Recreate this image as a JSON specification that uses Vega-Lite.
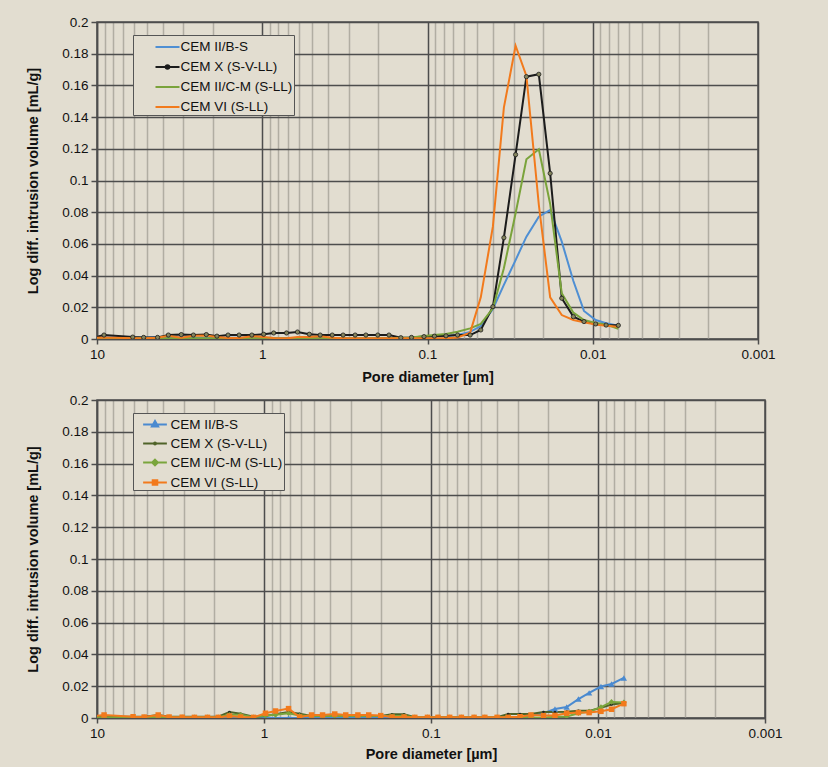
{
  "$schema": "https://vega.github.io/schema/vega-lite/v6.json",
  "background": "#e2ddd0",
  "padding": {"left": 24, "top": 14, "right": 60, "bottom": 5},
  "spacing": 7,
  "datasets": {
    "top": [
      {"d":10.8,"v":0.0015,"s":"CEM II/B-S"},{"d":9.07,"v":0.0012,"s":"CEM II/B-S"},{"d":6.08,"v":0.001,"s":"CEM II/B-S"},{"d":5.22,"v":0.001,"s":"CEM II/B-S"},{"d":4.3,"v":0.0012,"s":"CEM II/B-S"},{"d":3.7,"v":0.0012,"s":"CEM II/B-S"},{"d":3.09,"v":0.001,"s":"CEM II/B-S"},{"d":2.61,"v":0.001,"s":"CEM II/B-S"},{"d":2.18,"v":0.0008,"s":"CEM II/B-S"},{"d":1.88,"v":0.0008,"s":"CEM II/B-S"},{"d":1.61,"v":0.0008,"s":"CEM II/B-S"},{"d":1.38,"v":0.0008,"s":"CEM II/B-S"},{"d":1.156,"v":0.0012,"s":"CEM II/B-S"},{"d":0.98,"v":0.0008,"s":"CEM II/B-S"},{"d":0.853,"v":0.0006,"s":"CEM II/B-S"},{"d":0.713,"v":0.0006,"s":"CEM II/B-S"},{"d":0.612,"v":0.0006,"s":"CEM II/B-S"},{"d":0.519,"v":0.0006,"s":"CEM II/B-S"},{"d":0.446,"v":0.0006,"s":"CEM II/B-S"},{"d":0.377,"v":0.0006,"s":"CEM II/B-S"},{"d":0.324,"v":0.0006,"s":"CEM II/B-S"},{"d":0.274,"v":0.0006,"s":"CEM II/B-S"},{"d":0.236,"v":0.0006,"s":"CEM II/B-S"},{"d":0.2,"v":0.0006,"s":"CEM II/B-S"},{"d":0.171,"v":0.0006,"s":"CEM II/B-S"},{"d":0.145,"v":0.0006,"s":"CEM II/B-S"},{"d":0.125,"v":0.0008,"s":"CEM II/B-S"},{"d":0.105,"v":0.0012,"s":"CEM II/B-S"},{"d":0.0908,"v":0.0015,"s":"CEM II/B-S"},{"d":0.0773,"v":0.0018,"s":"CEM II/B-S"},{"d":0.0658,"v":0.0025,"s":"CEM II/B-S"},{"d":0.0552,"v":0.0045,"s":"CEM II/B-S"},{"d":0.0476,"v":0.0082,"s":"CEM II/B-S"},{"d":0.0402,"v":0.019,"s":"CEM II/B-S"},{"d":0.0345,"v":0.0341,"s":"CEM II/B-S"},{"d":0.0293,"v":0.0498,"s":"CEM II/B-S"},{"d":0.0252,"v":0.0646,"s":"CEM II/B-S"},{"d":0.0212,"v":0.0772,"s":"CEM II/B-S"},{"d":0.0181,"v":0.0814,"s":"CEM II/B-S"},{"d":0.0154,"v":0.0614,"s":"CEM II/B-S"},{"d":0.0131,"v":0.0366,"s":"CEM II/B-S"},{"d":0.0113,"v":0.0177,"s":"CEM II/B-S"},{"d":0.0096,"v":0.012,"s":"CEM II/B-S"},{"d":0.0083,"v":0.0099,"s":"CEM II/B-S"},{"d":0.007,"v":0.0084,"s":"CEM II/B-S"},
      {"d":10.8,"v":0.0005,"s":"CEM X (S-V-LL)"},{"d":9.07,"v":0.0025,"s":"CEM X (S-V-LL)"},{"d":6.08,"v":0.0012,"s":"CEM X (S-V-LL)"},{"d":5.22,"v":0.001,"s":"CEM X (S-V-LL)"},{"d":4.3,"v":0.001,"s":"CEM X (S-V-LL)"},{"d":3.7,"v":0.0025,"s":"CEM X (S-V-LL)"},{"d":3.09,"v":0.0028,"s":"CEM X (S-V-LL)"},{"d":2.61,"v":0.0025,"s":"CEM X (S-V-LL)"},{"d":2.18,"v":0.0028,"s":"CEM X (S-V-LL)"},{"d":1.88,"v":0.0018,"s":"CEM X (S-V-LL)"},{"d":1.61,"v":0.0025,"s":"CEM X (S-V-LL)"},{"d":1.38,"v":0.0025,"s":"CEM X (S-V-LL)"},{"d":1.156,"v":0.0025,"s":"CEM X (S-V-LL)"},{"d":0.98,"v":0.003,"s":"CEM X (S-V-LL)"},{"d":0.853,"v":0.0038,"s":"CEM X (S-V-LL)"},{"d":0.713,"v":0.0038,"s":"CEM X (S-V-LL)"},{"d":0.612,"v":0.0044,"s":"CEM X (S-V-LL)"},{"d":0.519,"v":0.003,"s":"CEM X (S-V-LL)"},{"d":0.446,"v":0.0025,"s":"CEM X (S-V-LL)"},{"d":0.377,"v":0.0025,"s":"CEM X (S-V-LL)"},{"d":0.324,"v":0.0025,"s":"CEM X (S-V-LL)"},{"d":0.274,"v":0.0025,"s":"CEM X (S-V-LL)"},{"d":0.236,"v":0.0025,"s":"CEM X (S-V-LL)"},{"d":0.2,"v":0.0025,"s":"CEM X (S-V-LL)"},{"d":0.171,"v":0.0025,"s":"CEM X (S-V-LL)"},{"d":0.145,"v":0.0008,"s":"CEM X (S-V-LL)"},{"d":0.125,"v":0.001,"s":"CEM X (S-V-LL)"},{"d":0.105,"v":0.0015,"s":"CEM X (S-V-LL)"},{"d":0.0908,"v":0.0018,"s":"CEM X (S-V-LL)"},{"d":0.0773,"v":0.002,"s":"CEM X (S-V-LL)"},{"d":0.0658,"v":0.0025,"s":"CEM X (S-V-LL)"},{"d":0.0552,"v":0.0025,"s":"CEM X (S-V-LL)"},{"d":0.0476,"v":0.0057,"s":"CEM X (S-V-LL)"},{"d":0.0402,"v":0.0204,"s":"CEM X (S-V-LL)"},{"d":0.0345,"v":0.0639,"s":"CEM X (S-V-LL)"},{"d":0.0293,"v":0.1163,"s":"CEM X (S-V-LL)"},{"d":0.0252,"v":0.1655,"s":"CEM X (S-V-LL)"},{"d":0.0212,"v":0.167,"s":"CEM X (S-V-LL)"},{"d":0.0181,"v":0.1045,"s":"CEM X (S-V-LL)"},{"d":0.0154,"v":0.0257,"s":"CEM X (S-V-LL)"},{"d":0.0131,"v":0.0141,"s":"CEM X (S-V-LL)"},{"d":0.0113,"v":0.011,"s":"CEM X (S-V-LL)"},{"d":0.0096,"v":0.0095,"s":"CEM X (S-V-LL)"},{"d":0.0083,"v":0.0088,"s":"CEM X (S-V-LL)"},{"d":0.007,"v":0.0086,"s":"CEM X (S-V-LL)"},
      {"d":10.8,"v":0.0003,"s":"CEM II/C-M (S-LL)"},{"d":9.07,"v":0.0004,"s":"CEM II/C-M (S-LL)"},{"d":6.08,"v":0.0004,"s":"CEM II/C-M (S-LL)"},{"d":5.22,"v":0.0004,"s":"CEM II/C-M (S-LL)"},{"d":4.3,"v":0.0004,"s":"CEM II/C-M (S-LL)"},{"d":3.7,"v":0.0005,"s":"CEM II/C-M (S-LL)"},{"d":3.09,"v":0.0005,"s":"CEM II/C-M (S-LL)"},{"d":2.61,"v":0.0005,"s":"CEM II/C-M (S-LL)"},{"d":2.18,"v":0.0005,"s":"CEM II/C-M (S-LL)"},{"d":1.88,"v":0.0005,"s":"CEM II/C-M (S-LL)"},{"d":1.61,"v":0.0005,"s":"CEM II/C-M (S-LL)"},{"d":1.38,"v":0.0005,"s":"CEM II/C-M (S-LL)"},{"d":1.156,"v":0.0005,"s":"CEM II/C-M (S-LL)"},{"d":0.98,"v":0.0005,"s":"CEM II/C-M (S-LL)"},{"d":0.853,"v":0.0005,"s":"CEM II/C-M (S-LL)"},{"d":0.713,"v":0.0005,"s":"CEM II/C-M (S-LL)"},{"d":0.612,"v":0.0005,"s":"CEM II/C-M (S-LL)"},{"d":0.519,"v":0.0005,"s":"CEM II/C-M (S-LL)"},{"d":0.446,"v":0.0005,"s":"CEM II/C-M (S-LL)"},{"d":0.377,"v":0.0005,"s":"CEM II/C-M (S-LL)"},{"d":0.324,"v":0.0005,"s":"CEM II/C-M (S-LL)"},{"d":0.274,"v":0.0005,"s":"CEM II/C-M (S-LL)"},{"d":0.236,"v":0.0005,"s":"CEM II/C-M (S-LL)"},{"d":0.2,"v":0.0005,"s":"CEM II/C-M (S-LL)"},{"d":0.171,"v":0.0005,"s":"CEM II/C-M (S-LL)"},{"d":0.145,"v":0.0008,"s":"CEM II/C-M (S-LL)"},{"d":0.125,"v":0.001,"s":"CEM II/C-M (S-LL)"},{"d":0.105,"v":0.0019,"s":"CEM II/C-M (S-LL)"},{"d":0.0908,"v":0.0025,"s":"CEM II/C-M (S-LL)"},{"d":0.0773,"v":0.0032,"s":"CEM II/C-M (S-LL)"},{"d":0.0658,"v":0.0046,"s":"CEM II/C-M (S-LL)"},{"d":0.0552,"v":0.0067,"s":"CEM II/C-M (S-LL)"},{"d":0.0476,"v":0.0095,"s":"CEM II/C-M (S-LL)"},{"d":0.0402,"v":0.0194,"s":"CEM II/C-M (S-LL)"},{"d":0.0345,"v":0.0446,"s":"CEM II/C-M (S-LL)"},{"d":0.0293,"v":0.0793,"s":"CEM II/C-M (S-LL)"},{"d":0.0252,"v":0.1134,"s":"CEM II/C-M (S-LL)"},{"d":0.0212,"v":0.1197,"s":"CEM II/C-M (S-LL)"},{"d":0.0181,"v":0.0852,"s":"CEM II/C-M (S-LL)"},{"d":0.0154,"v":0.0288,"s":"CEM II/C-M (S-LL)"},{"d":0.0131,"v":0.0166,"s":"CEM II/C-M (S-LL)"},{"d":0.0113,"v":0.012,"s":"CEM II/C-M (S-LL)"},{"d":0.0096,"v":0.0101,"s":"CEM II/C-M (S-LL)"},{"d":0.0083,"v":0.0091,"s":"CEM II/C-M (S-LL)"},{"d":0.007,"v":0.0065,"s":"CEM II/C-M (S-LL)"},
      {"d":10.8,"v":0.0005,"s":"CEM VI (S-LL)"},{"d":9.07,"v":0.001,"s":"CEM VI (S-LL)"},{"d":6.08,"v":0.0005,"s":"CEM VI (S-LL)"},{"d":5.22,"v":0.0005,"s":"CEM VI (S-LL)"},{"d":4.3,"v":0.0008,"s":"CEM VI (S-LL)"},{"d":3.7,"v":0.002,"s":"CEM VI (S-LL)"},{"d":3.09,"v":0.0008,"s":"CEM VI (S-LL)"},{"d":2.61,"v":0.002,"s":"CEM VI (S-LL)"},{"d":2.18,"v":0.0022,"s":"CEM VI (S-LL)"},{"d":1.88,"v":0.0012,"s":"CEM VI (S-LL)"},{"d":1.61,"v":0.0006,"s":"CEM VI (S-LL)"},{"d":1.38,"v":0.0006,"s":"CEM VI (S-LL)"},{"d":1.156,"v":0.0018,"s":"CEM VI (S-LL)"},{"d":0.98,"v":0.0012,"s":"CEM VI (S-LL)"},{"d":0.853,"v":0.0006,"s":"CEM VI (S-LL)"},{"d":0.713,"v":0.0004,"s":"CEM VI (S-LL)"},{"d":0.612,"v":0.0012,"s":"CEM VI (S-LL)"},{"d":0.519,"v":0.0012,"s":"CEM VI (S-LL)"},{"d":0.446,"v":0.0018,"s":"CEM VI (S-LL)"},{"d":0.377,"v":0.0008,"s":"CEM VI (S-LL)"},{"d":0.324,"v":0.0004,"s":"CEM VI (S-LL)"},{"d":0.274,"v":0.0004,"s":"CEM VI (S-LL)"},{"d":0.236,"v":0.0004,"s":"CEM VI (S-LL)"},{"d":0.2,"v":0.0004,"s":"CEM VI (S-LL)"},{"d":0.171,"v":0.0004,"s":"CEM VI (S-LL)"},{"d":0.145,"v":0.0004,"s":"CEM VI (S-LL)"},{"d":0.125,"v":0.0004,"s":"CEM VI (S-LL)"},{"d":0.105,"v":0.0004,"s":"CEM VI (S-LL)"},{"d":0.0908,"v":0.0004,"s":"CEM VI (S-LL)"},{"d":0.0773,"v":0.0004,"s":"CEM VI (S-LL)"},{"d":0.0658,"v":0.001,"s":"CEM VI (S-LL)"},{"d":0.0552,"v":0.004,"s":"CEM VI (S-LL)"},{"d":0.0476,"v":0.0263,"s":"CEM VI (S-LL)"},{"d":0.0402,"v":0.071,"s":"CEM VI (S-LL)"},{"d":0.0345,"v":0.146,"s":"CEM VI (S-LL)"},{"d":0.0293,"v":0.185,"s":"CEM VI (S-LL)"},{"d":0.0252,"v":0.166,"s":"CEM VI (S-LL)"},{"d":0.0212,"v":0.0847,"s":"CEM VI (S-LL)"},{"d":0.0181,"v":0.0263,"s":"CEM VI (S-LL)"},{"d":0.0154,"v":0.0151,"s":"CEM VI (S-LL)"},{"d":0.0131,"v":0.012,"s":"CEM VI (S-LL)"},{"d":0.0113,"v":0.0105,"s":"CEM VI (S-LL)"},{"d":0.0096,"v":0.0092,"s":"CEM VI (S-LL)"},{"d":0.0083,"v":0.0083,"s":"CEM VI (S-LL)"},{"d":0.007,"v":0.0078,"s":"CEM VI (S-LL)"}
    ],
    "bottom": [
      {"d":10.8,"v":0,"s":"CEM II/B-S"},{"d":9.07,"v":0.0003,"s":"CEM II/B-S"},{"d":6.08,"v":0,"s":"CEM II/B-S"},{"d":5.22,"v":0,"s":"CEM II/B-S"},{"d":4.3,"v":0,"s":"CEM II/B-S"},{"d":3.7,"v":0,"s":"CEM II/B-S"},{"d":3.09,"v":0,"s":"CEM II/B-S"},{"d":2.61,"v":0,"s":"CEM II/B-S"},{"d":2.18,"v":0,"s":"CEM II/B-S"},{"d":1.88,"v":0,"s":"CEM II/B-S"},{"d":1.61,"v":0,"s":"CEM II/B-S"},{"d":1.38,"v":0,"s":"CEM II/B-S"},{"d":1.156,"v":0,"s":"CEM II/B-S"},{"d":0.98,"v":0,"s":"CEM II/B-S"},{"d":0.853,"v":0,"s":"CEM II/B-S"},{"d":0.713,"v":0,"s":"CEM II/B-S"},{"d":0.612,"v":0,"s":"CEM II/B-S"},{"d":0.519,"v":0,"s":"CEM II/B-S"},{"d":0.446,"v":0,"s":"CEM II/B-S"},{"d":0.377,"v":0,"s":"CEM II/B-S"},{"d":0.324,"v":0,"s":"CEM II/B-S"},{"d":0.274,"v":0,"s":"CEM II/B-S"},{"d":0.236,"v":0,"s":"CEM II/B-S"},{"d":0.2,"v":0,"s":"CEM II/B-S"},{"d":0.171,"v":0,"s":"CEM II/B-S"},{"d":0.145,"v":0,"s":"CEM II/B-S"},{"d":0.125,"v":0,"s":"CEM II/B-S"},{"d":0.105,"v":0,"s":"CEM II/B-S"},{"d":0.0908,"v":0,"s":"CEM II/B-S"},{"d":0.0773,"v":0,"s":"CEM II/B-S"},{"d":0.0658,"v":0,"s":"CEM II/B-S"},{"d":0.0552,"v":0,"s":"CEM II/B-S"},{"d":0.0476,"v":0,"s":"CEM II/B-S"},{"d":0.0402,"v":0,"s":"CEM II/B-S"},{"d":0.0345,"v":0,"s":"CEM II/B-S"},{"d":0.0293,"v":0,"s":"CEM II/B-S"},{"d":0.0252,"v":0.0012,"s":"CEM II/B-S"},{"d":0.0212,"v":0.003,"s":"CEM II/B-S"},{"d":0.0181,"v":0.0057,"s":"CEM II/B-S"},{"d":0.0154,"v":0.0069,"s":"CEM II/B-S"},{"d":0.0131,"v":0.0119,"s":"CEM II/B-S"},{"d":0.0113,"v":0.0158,"s":"CEM II/B-S"},{"d":0.0096,"v":0.0198,"s":"CEM II/B-S"},{"d":0.0083,"v":0.0214,"s":"CEM II/B-S"},{"d":0.007,"v":0.0252,"s":"CEM II/B-S"},
      {"d":10.8,"v":0.0005,"s":"CEM X (S-V-LL)"},{"d":9.07,"v":0.0008,"s":"CEM X (S-V-LL)"},{"d":6.08,"v":0.0008,"s":"CEM X (S-V-LL)"},{"d":5.22,"v":0.0008,"s":"CEM X (S-V-LL)"},{"d":4.3,"v":0.0019,"s":"CEM X (S-V-LL)"},{"d":3.7,"v":0.0008,"s":"CEM X (S-V-LL)"},{"d":3.09,"v":0.0008,"s":"CEM X (S-V-LL)"},{"d":2.61,"v":0.0008,"s":"CEM X (S-V-LL)"},{"d":2.18,"v":0.0008,"s":"CEM X (S-V-LL)"},{"d":1.88,"v":0.0008,"s":"CEM X (S-V-LL)"},{"d":1.61,"v":0.0038,"s":"CEM X (S-V-LL)"},{"d":1.38,"v":0.0027,"s":"CEM X (S-V-LL)"},{"d":1.156,"v":0.0008,"s":"CEM X (S-V-LL)"},{"d":0.98,"v":0.0012,"s":"CEM X (S-V-LL)"},{"d":0.853,"v":0.0023,"s":"CEM X (S-V-LL)"},{"d":0.713,"v":0.0038,"s":"CEM X (S-V-LL)"},{"d":0.612,"v":0.0027,"s":"CEM X (S-V-LL)"},{"d":0.519,"v":0.0012,"s":"CEM X (S-V-LL)"},{"d":0.446,"v":0.0012,"s":"CEM X (S-V-LL)"},{"d":0.377,"v":0.0012,"s":"CEM X (S-V-LL)"},{"d":0.324,"v":0.0012,"s":"CEM X (S-V-LL)"},{"d":0.274,"v":0.0012,"s":"CEM X (S-V-LL)"},{"d":0.236,"v":0.0012,"s":"CEM X (S-V-LL)"},{"d":0.2,"v":0.0012,"s":"CEM X (S-V-LL)"},{"d":0.171,"v":0.0023,"s":"CEM X (S-V-LL)"},{"d":0.145,"v":0.0023,"s":"CEM X (S-V-LL)"},{"d":0.125,"v":0.0005,"s":"CEM X (S-V-LL)"},{"d":0.105,"v":0.0005,"s":"CEM X (S-V-LL)"},{"d":0.0908,"v":0.0005,"s":"CEM X (S-V-LL)"},{"d":0.0773,"v":0.0005,"s":"CEM X (S-V-LL)"},{"d":0.0658,"v":0.0005,"s":"CEM X (S-V-LL)"},{"d":0.0552,"v":0.0005,"s":"CEM X (S-V-LL)"},{"d":0.0476,"v":0.0005,"s":"CEM X (S-V-LL)"},{"d":0.0402,"v":0.0005,"s":"CEM X (S-V-LL)"},{"d":0.0345,"v":0.0025,"s":"CEM X (S-V-LL)"},{"d":0.0293,"v":0.0025,"s":"CEM X (S-V-LL)"},{"d":0.0252,"v":0.0025,"s":"CEM X (S-V-LL)"},{"d":0.0212,"v":0.0038,"s":"CEM X (S-V-LL)"},{"d":0.0181,"v":0.0038,"s":"CEM X (S-V-LL)"},{"d":0.0154,"v":0.004,"s":"CEM X (S-V-LL)"},{"d":0.0131,"v":0.0045,"s":"CEM X (S-V-LL)"},{"d":0.0113,"v":0.0045,"s":"CEM X (S-V-LL)"},{"d":0.0096,"v":0.0065,"s":"CEM X (S-V-LL)"},{"d":0.0083,"v":0.0085,"s":"CEM X (S-V-LL)"},{"d":0.007,"v":0.0095,"s":"CEM X (S-V-LL)"},
      {"d":10.8,"v":0.0005,"s":"CEM II/C-M (S-LL)"},{"d":9.07,"v":0.0005,"s":"CEM II/C-M (S-LL)"},{"d":6.08,"v":0.0005,"s":"CEM II/C-M (S-LL)"},{"d":5.22,"v":0.0005,"s":"CEM II/C-M (S-LL)"},{"d":4.3,"v":0.0005,"s":"CEM II/C-M (S-LL)"},{"d":3.7,"v":0.0005,"s":"CEM II/C-M (S-LL)"},{"d":3.09,"v":0.0005,"s":"CEM II/C-M (S-LL)"},{"d":2.61,"v":0.0005,"s":"CEM II/C-M (S-LL)"},{"d":2.18,"v":0.0005,"s":"CEM II/C-M (S-LL)"},{"d":1.88,"v":0.0005,"s":"CEM II/C-M (S-LL)"},{"d":1.61,"v":0.002,"s":"CEM II/C-M (S-LL)"},{"d":1.38,"v":0.002,"s":"CEM II/C-M (S-LL)"},{"d":1.156,"v":0.0005,"s":"CEM II/C-M (S-LL)"},{"d":0.98,"v":0.0015,"s":"CEM II/C-M (S-LL)"},{"d":0.853,"v":0.002,"s":"CEM II/C-M (S-LL)"},{"d":0.713,"v":0.003,"s":"CEM II/C-M (S-LL)"},{"d":0.612,"v":0.0015,"s":"CEM II/C-M (S-LL)"},{"d":0.519,"v":0.0012,"s":"CEM II/C-M (S-LL)"},{"d":0.446,"v":0.0012,"s":"CEM II/C-M (S-LL)"},{"d":0.377,"v":0.0012,"s":"CEM II/C-M (S-LL)"},{"d":0.324,"v":0.0012,"s":"CEM II/C-M (S-LL)"},{"d":0.274,"v":0.0012,"s":"CEM II/C-M (S-LL)"},{"d":0.236,"v":0.0012,"s":"CEM II/C-M (S-LL)"},{"d":0.2,"v":0.0012,"s":"CEM II/C-M (S-LL)"},{"d":0.171,"v":0.0012,"s":"CEM II/C-M (S-LL)"},{"d":0.145,"v":0.0012,"s":"CEM II/C-M (S-LL)"},{"d":0.125,"v":0.0004,"s":"CEM II/C-M (S-LL)"},{"d":0.105,"v":0.0004,"s":"CEM II/C-M (S-LL)"},{"d":0.0908,"v":0.0004,"s":"CEM II/C-M (S-LL)"},{"d":0.0773,"v":0.0004,"s":"CEM II/C-M (S-LL)"},{"d":0.0658,"v":0.0004,"s":"CEM II/C-M (S-LL)"},{"d":0.0552,"v":0.0004,"s":"CEM II/C-M (S-LL)"},{"d":0.0476,"v":0.0004,"s":"CEM II/C-M (S-LL)"},{"d":0.0402,"v":0.0004,"s":"CEM II/C-M (S-LL)"},{"d":0.0345,"v":0.0004,"s":"CEM II/C-M (S-LL)"},{"d":0.0293,"v":0.0004,"s":"CEM II/C-M (S-LL)"},{"d":0.0252,"v":0.0001,"s":"CEM II/C-M (S-LL)"},{"d":0.0212,"v":0.0001,"s":"CEM II/C-M (S-LL)"},{"d":0.0181,"v":0.0008,"s":"CEM II/C-M (S-LL)"},{"d":0.0154,"v":0.001,"s":"CEM II/C-M (S-LL)"},{"d":0.0131,"v":0.003,"s":"CEM II/C-M (S-LL)"},{"d":0.0113,"v":0.004,"s":"CEM II/C-M (S-LL)"},{"d":0.0096,"v":0.0068,"s":"CEM II/C-M (S-LL)"},{"d":0.0083,"v":0.0101,"s":"CEM II/C-M (S-LL)"},{"d":0.007,"v":0.0098,"s":"CEM II/C-M (S-LL)"},
      {"d":10.8,"v":0.001,"s":"CEM VI (S-LL)"},{"d":9.07,"v":0.0019,"s":"CEM VI (S-LL)"},{"d":6.08,"v":0.0008,"s":"CEM VI (S-LL)"},{"d":5.22,"v":0.0006,"s":"CEM VI (S-LL)"},{"d":4.3,"v":0.0019,"s":"CEM VI (S-LL)"},{"d":3.7,"v":0.0006,"s":"CEM VI (S-LL)"},{"d":3.09,"v":0.0005,"s":"CEM VI (S-LL)"},{"d":2.61,"v":0.0004,"s":"CEM VI (S-LL)"},{"d":2.18,"v":0.0004,"s":"CEM VI (S-LL)"},{"d":1.88,"v":0.0004,"s":"CEM VI (S-LL)"},{"d":1.61,"v":0.0012,"s":"CEM VI (S-LL)"},{"d":1.38,"v":0.0006,"s":"CEM VI (S-LL)"},{"d":1.156,"v":0.0004,"s":"CEM VI (S-LL)"},{"d":0.98,"v":0.003,"s":"CEM VI (S-LL)"},{"d":0.853,"v":0.0044,"s":"CEM VI (S-LL)"},{"d":0.713,"v":0.0059,"s":"CEM VI (S-LL)"},{"d":0.612,"v":0.0006,"s":"CEM VI (S-LL)"},{"d":0.519,"v":0.0019,"s":"CEM VI (S-LL)"},{"d":0.446,"v":0.0019,"s":"CEM VI (S-LL)"},{"d":0.377,"v":0.0025,"s":"CEM VI (S-LL)"},{"d":0.324,"v":0.0019,"s":"CEM VI (S-LL)"},{"d":0.274,"v":0.0019,"s":"CEM VI (S-LL)"},{"d":0.236,"v":0.0019,"s":"CEM VI (S-LL)"},{"d":0.2,"v":0.0015,"s":"CEM VI (S-LL)"},{"d":0.171,"v":0.0006,"s":"CEM VI (S-LL)"},{"d":0.145,"v":0.0006,"s":"CEM VI (S-LL)"},{"d":0.125,"v":0.0004,"s":"CEM VI (S-LL)"},{"d":0.105,"v":0.0004,"s":"CEM VI (S-LL)"},{"d":0.0908,"v":0.0004,"s":"CEM VI (S-LL)"},{"d":0.0773,"v":0.0004,"s":"CEM VI (S-LL)"},{"d":0.0658,"v":0.0004,"s":"CEM VI (S-LL)"},{"d":0.0552,"v":0.0004,"s":"CEM VI (S-LL)"},{"d":0.0476,"v":0.0004,"s":"CEM VI (S-LL)"},{"d":0.0402,"v":0.0004,"s":"CEM VI (S-LL)"},{"d":0.0345,"v":0.0004,"s":"CEM VI (S-LL)"},{"d":0.0293,"v":0.0008,"s":"CEM VI (S-LL)"},{"d":0.0252,"v":0.0019,"s":"CEM VI (S-LL)"},{"d":0.0212,"v":0.0015,"s":"CEM VI (S-LL)"},{"d":0.0181,"v":0.0016,"s":"CEM VI (S-LL)"},{"d":0.0154,"v":0.003,"s":"CEM VI (S-LL)"},{"d":0.0131,"v":0.0034,"s":"CEM VI (S-LL)"},{"d":0.0113,"v":0.0034,"s":"CEM VI (S-LL)"},{"d":0.0096,"v":0.0042,"s":"CEM VI (S-LL)"},{"d":0.0083,"v":0.0055,"s":"CEM VI (S-LL)"},{"d":0.007,"v":0.009,"s":"CEM VI (S-LL)"}
    ]
  },
  "vconcat": [
    {
      "width": 661,
      "height": 317,
      "data": {"name": "top"},
      "encoding": {
        "x": {"field": "d", "type": "quantitative", "title": "Pore diameter [µm]",
          "scale": {"type": "log", "domain": [0.001, 10], "reverse": true, "nice": false},
          "axis": {"values": [10,9,8,7,6,5,4,3,2,1,0.9,0.8,0.7,0.6,0.5,0.4,0.3,0.2,0.1,0.09,0.08,0.07,0.06,0.05,0.04,0.03,0.02,0.01,0.009,0.008,0.007,0.006,0.005,0.004,0.003,0.002,0.001],
            "format": "~g", "labelOverlap": false, "labelFlush": false,
            "labelExpr": "indexof([10,1,0.1,0.01,0.001], datum.value) >= 0 ? datum.label : ''",
            "gridColor": {"condition": {"test": "indexof([10,1,0.1,0.01,0.001], datum.value) >= 0", "value": "#4d4d4d"}, "value": "#b1ada2"},
            "tickColor": {"condition": {"test": "indexof([10,1,0.1,0.01,0.001], datum.value) >= 0", "value": "#4d4d4d"}, "value": "transparent"},
            "tickSize": 5, "labelPadding": 3, "titlePadding": 10}},
        "y": {"field": "v", "type": "quantitative", "title": "Log diff. intrusion volume [mL/g]",
          "scale": {"domain": [0, 0.2], "nice": false},
          "axis": {"values": [0,0.02,0.04,0.06,0.08,0.1,0.12,0.14,0.16,0.18,0.2], "format": "~g", "labelOverlap": false, "gridColor": "#4d4d4d", "tickSize": 6, "labelPadding": 3, "titlePadding": 21}}
      },
      "layer": [
        {
          "mark": {"type": "line", "strokeWidth": 2, "clip": true},
          "encoding": {
            "color": {"field": "s", "type": "nominal",
              "scale": {"domain": ["CEM II/B-S","CEM X (S-V-LL)","CEM II/C-M (S-LL)","CEM VI (S-LL)"], "range": ["#4f8fd3","#1c1c1c","#7aa33b","#f27a1c"]},
              "legend": {"orient": "none", "legendX": 36, "legendY": 13, "title": null,
                "padding": 1, "rowPadding": 2, "symbolOffset": 22.5, "labelOffset": 2, "symbolSize": 400, "symbolStrokeWidth": 2,
                "symbolType": {"expr": "datum.value === 'CEM X (S-V-LL)' ? 'M-1.2,0H1.2M-0.18,0A0.18,0.18 0 1,0 0.18,0A0.18,0.18 0 1,0 -0.18,0' : 'M-1.2,0H1.2'"},
                "symbolFillColor": {"expr": "datum.value === 'CEM X (S-V-LL)' ? '#85855e' : 'transparent'"},
                "labelFont": "Liberation Sans", "labelFontSize": 13.5, "labelColor": "#111",
                "fillColor": "#e2ddd0", "strokeColor": "#555555"}}
          }
        },
        {
          "transform": [{"filter": "datum.s === 'CEM X (S-V-LL)'"}],
          "mark": {"type": "point", "filled": true, "clip": true, "size": 18, "fill": "#85855e", "stroke": "#1c1c1c", "strokeWidth": 0.8, "opacity": 1}
        }
      ]
    },
    {
      "width": 668,
      "height": 318,
      "data": {"name": "bottom"},
      "encoding": {
        "x": {"field": "d", "type": "quantitative", "title": "Pore diameter [µm]",
          "scale": {"type": "log", "domain": [0.001, 10], "reverse": true, "nice": false},
          "axis": {"values": [10,9,8,7,6,5,4,3,2,1,0.9,0.8,0.7,0.6,0.5,0.4,0.3,0.2,0.1,0.09,0.08,0.07,0.06,0.05,0.04,0.03,0.02,0.01,0.009,0.008,0.007,0.006,0.005,0.004,0.003,0.002,0.001],
            "format": "~g", "labelOverlap": false, "labelFlush": false,
            "labelExpr": "indexof([10,1,0.1,0.01,0.001], datum.value) >= 0 ? datum.label : ''",
            "gridColor": {"condition": {"test": "indexof([10,1,0.1,0.01,0.001], datum.value) >= 0", "value": "#4d4d4d"}, "value": "#b1ada2"},
            "tickColor": {"condition": {"test": "indexof([10,1,0.1,0.01,0.001], datum.value) >= 0", "value": "#4d4d4d"}, "value": "transparent"},
            "tickSize": 5, "labelPadding": 3, "titlePadding": 8}},
        "y": {"field": "v", "type": "quantitative", "title": "Log diff. intrusion volume [mL/g]",
          "scale": {"domain": [0, 0.2], "nice": false},
          "axis": {"values": [0,0.02,0.04,0.06,0.08,0.1,0.12,0.14,0.16,0.18,0.2], "format": "~g", "labelOverlap": false, "gridColor": "#4d4d4d", "tickSize": 6, "labelPadding": 3, "titlePadding": 21}}
      },
      "layer": [
        {
          "mark": {"type": "line", "strokeWidth": 2, "clip": true},
          "encoding": {
            "color": {"field": "s", "type": "nominal",
              "scale": {"domain": ["CEM II/B-S","CEM X (S-V-LL)","CEM II/C-M (S-LL)","CEM VI (S-LL)"], "range": ["#4a8ad0","#4f6328","#7aa53c","#f27a1c"]},
              "legend": {"orient": "none", "legendX": 36, "legendY": 13, "title": null,
                "padding": 1, "rowPadding": 2, "symbolOffset": 10.5, "labelOffset": 5, "symbolSize": 361, "symbolStrokeWidth": 2,
                "symbolType": {"expr": "datum.value === 'CEM II/B-S' ? 'M-1.25,0H1.25M0,-0.36L0.33,0.22L-0.33,0.22Z' : datum.value === 'CEM X (S-V-LL)' ? 'M-1.25,0H1.25M-0.1,0A0.1,0.1 0 1,0 0.1,0A0.1,0.1 0 1,0 -0.1,0' : datum.value === 'CEM II/C-M (S-LL)' ? 'M-1.25,0H1.25M0,-0.3L0.3,0L0,0.3L-0.3,0Z' : 'M-1.25,0H1.25M-0.24,-0.24H0.24V0.24H-0.24Z'"},
                "symbolFillColor": {"expr": "datum.value === 'CEM II/B-S' ? '#4a8ad0' : datum.value === 'CEM X (S-V-LL)' ? '#222222' : datum.value === 'CEM II/C-M (S-LL)' ? '#7aa53c' : '#f27a1c'"},
                "labelFont": "Liberation Sans", "labelFontSize": 13.5, "labelColor": "#111",
                "fillColor": "#e2ddd0", "strokeColor": "#555555"}}
          }
        },
        {
          "transform": [{"filter": "datum.s === 'CEM II/B-S'"}],
          "mark": {"type": "point", "filled": true, "clip": true, "shape": "triangle-up", "size": 40, "color": "#4a8ad0", "opacity": 1}
        },
        {
          "transform": [{"filter": "datum.s === 'CEM X (S-V-LL)'"}],
          "mark": {"type": "point", "filled": true, "clip": true, "shape": "circle", "size": 7, "color": "#222222", "opacity": 1}
        },
        {
          "transform": [{"filter": "datum.s === 'CEM II/C-M (S-LL)'"}],
          "mark": {"type": "point", "filled": true, "clip": true, "shape": "diamond", "size": 32, "color": "#7aa53c", "opacity": 1}
        },
        {
          "transform": [{"filter": "datum.s === 'CEM VI (S-LL)'"}],
          "mark": {"type": "point", "filled": true, "clip": true, "shape": "square", "size": 30, "color": "#f27a1c", "opacity": 1}
        }
      ]
    }
  ],
  "resolve": {
    "scale": {"color": "independent"},
    "legend": {"color": "independent"}
  },
  "config": {
    "font": "Liberation Sans",
    "view": {"stroke": "#4d4d4d", "strokeWidth": 1.5},
    "axis": {
      "labelFont": "Liberation Sans", "labelFontSize": 13.5, "labelColor": "#111111",
      "titleFont": "Liberation Sans", "titleFontSize": 14.5, "titleFontWeight": "bold", "titleColor": "#111111",
      "domainColor": "#4d4d4d", "domainWidth": 1.5, "tickColor": "#4d4d4d", "tickWidth": 1.5, "gridWidth": 1.5
    }
  }
}
